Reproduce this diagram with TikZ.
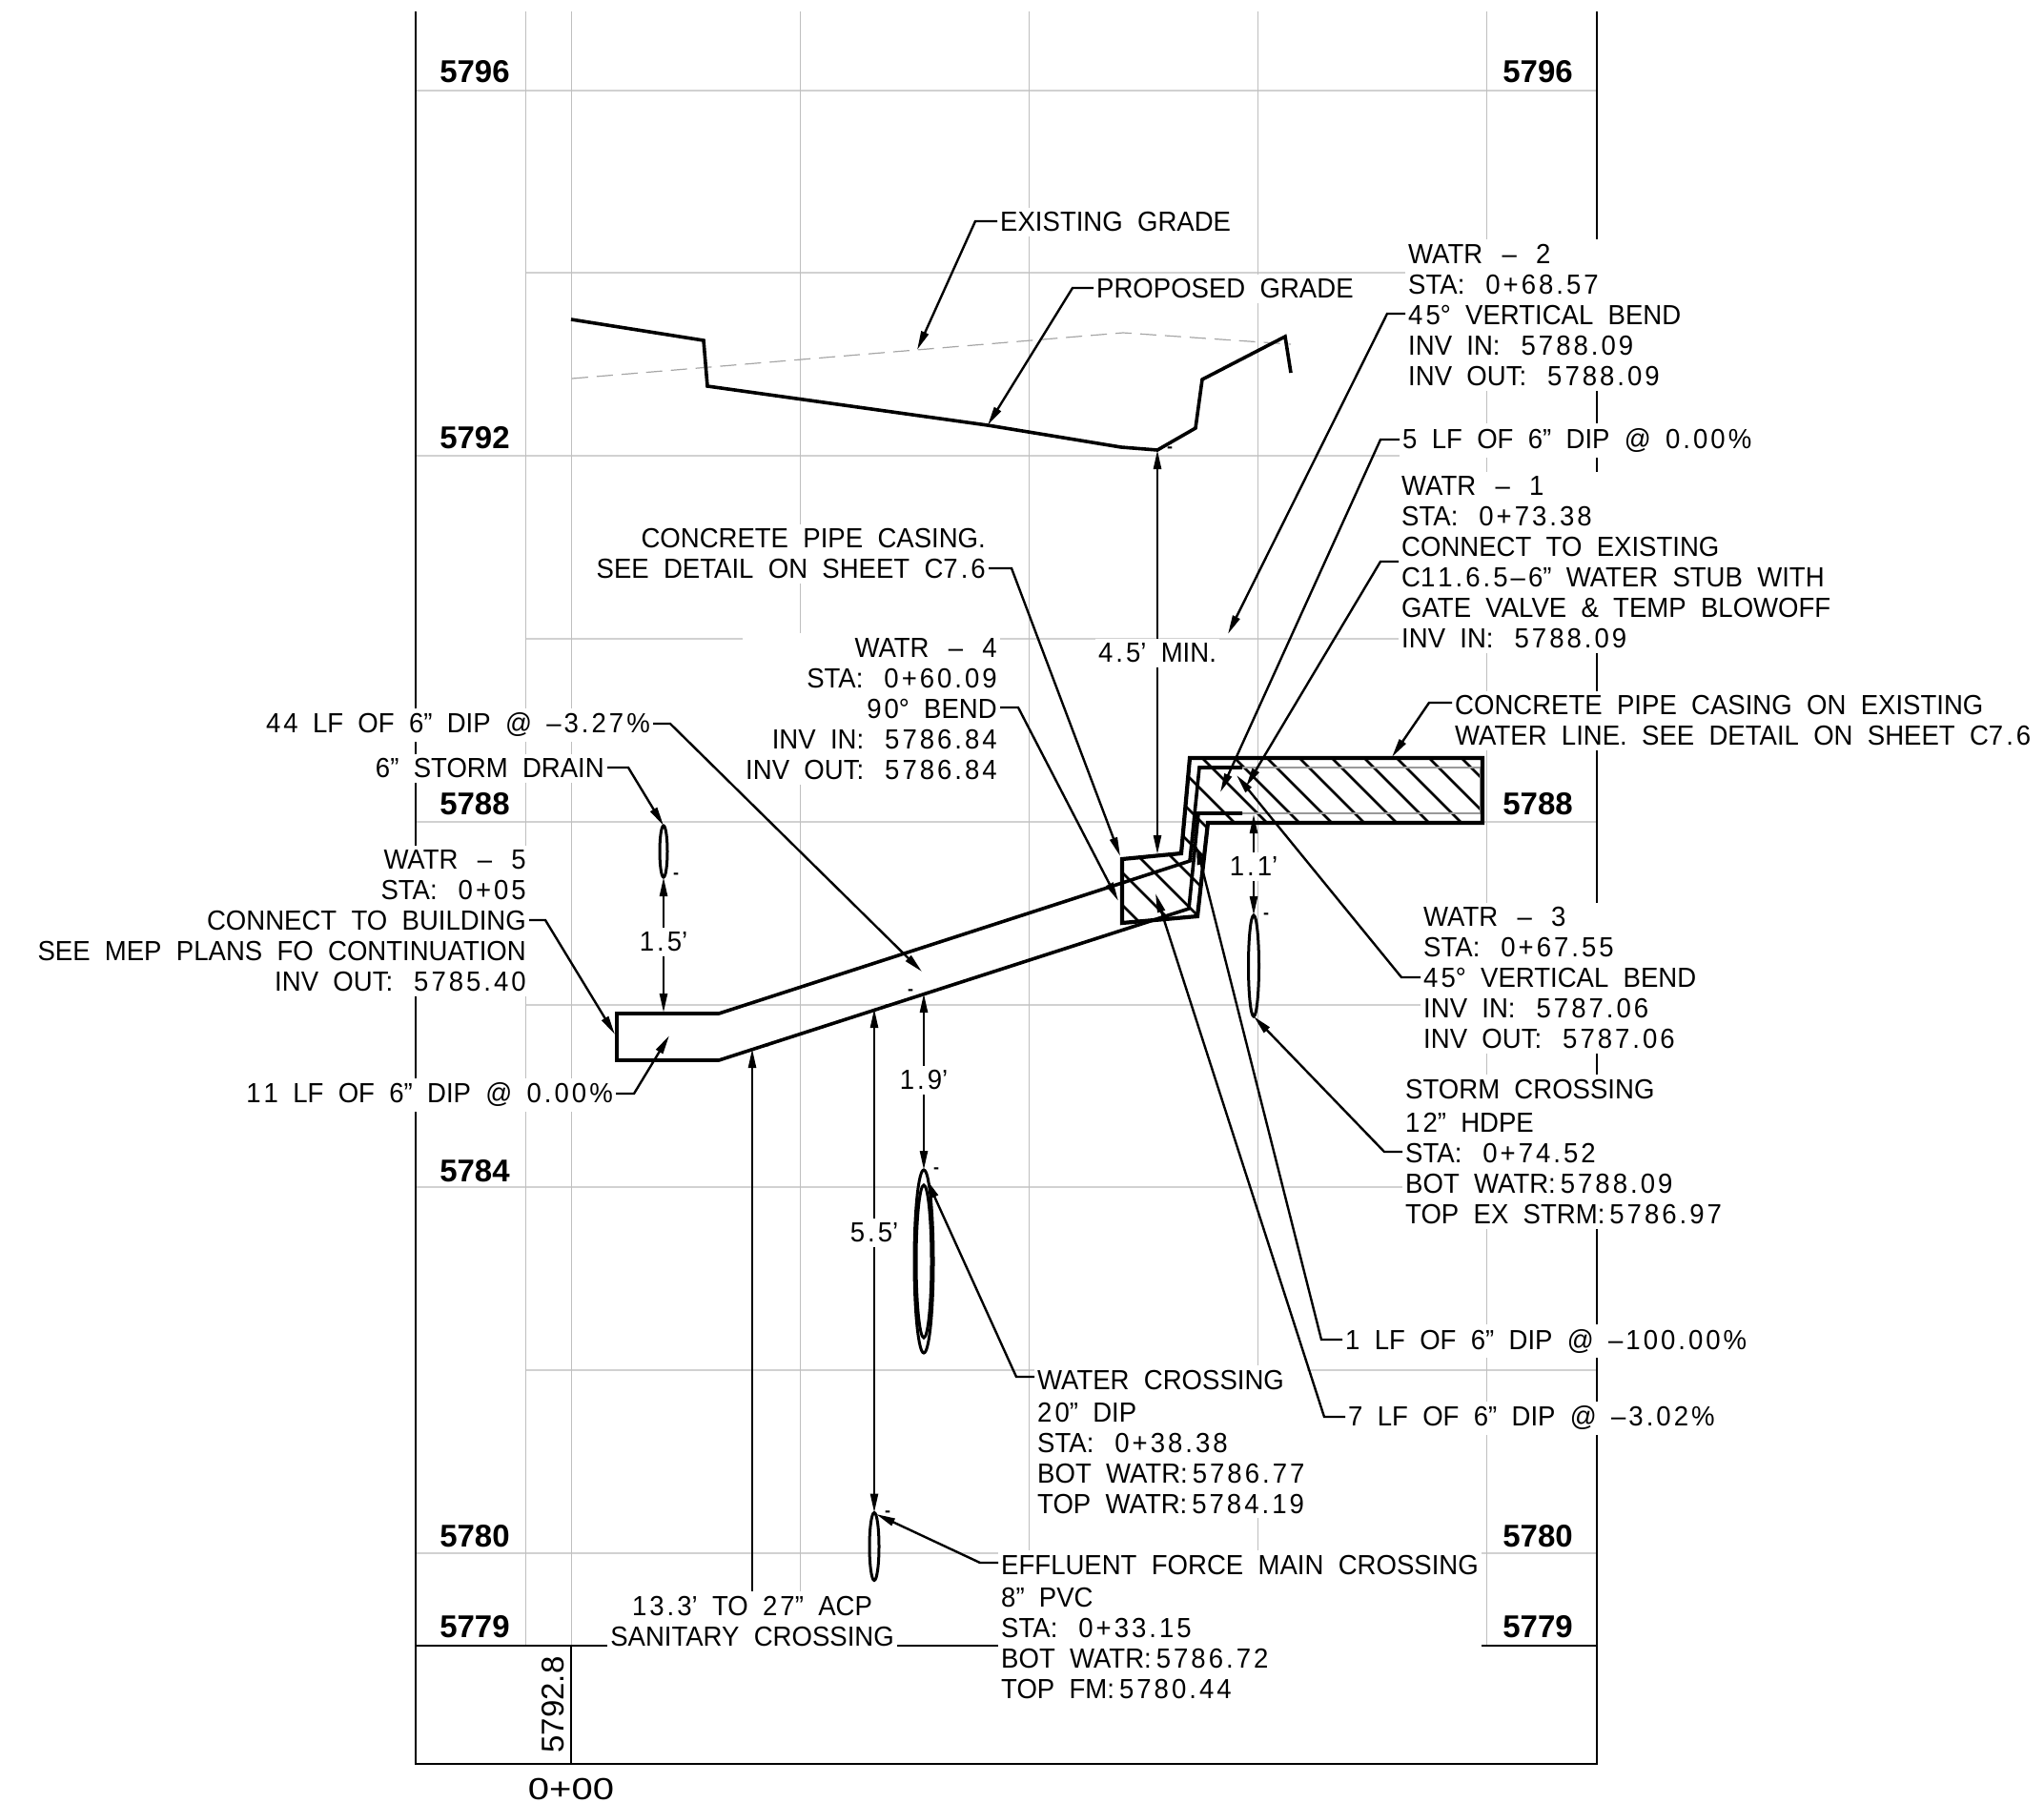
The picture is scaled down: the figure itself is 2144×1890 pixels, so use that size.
\documentclass[tikz,border=0pt]{standalone}
\usepackage{fontspec}
\setmainfont{Liberation Sans}
\newfontfamily\cadfont[FakeStretch=0.95,WordSpace=2]{Liberation Sans}
\newXeTeXintercharclass\numclass
\XeTeXcharclass`\0=\numclass \XeTeXcharclass`\1=\numclass \XeTeXcharclass`\2=\numclass \XeTeXcharclass`\3=\numclass
\XeTeXcharclass`\4=\numclass \XeTeXcharclass`\5=\numclass \XeTeXcharclass`\6=\numclass \XeTeXcharclass`\7=\numclass
\XeTeXcharclass`\8=\numclass \XeTeXcharclass`\9=\numclass \XeTeXcharclass`\.=\numclass \XeTeXcharclass`\+=\numclass
\XeTeXcharclass`\%=\numclass \XeTeXcharclass`\–=\numclass
\XeTeXinterchartoks\numclass\numclass={\kern3pt }
\newcommand{\notefont}{\cadfont\fontsize{29}{32}\selectfont\XeTeXinterchartokenstate=1 }
\newcommand{\colgap}{\kern22pt }
\newcommand{\wdash}{\kern5pt–\kern5pt}
\usetikzlibrary{arrows.meta,shapes.geometric}
\tikzset{
    gridh/.style={draw=black!18,line width=2pt},
    gridv/.style={draw=black!25,line width=1pt},
    frameline/.style={line width=2.6pt},
    pipeline/.style={line width=3.6pt,line join=miter},
    casingline/.style={line width=4.2pt,line join=miter},
    hatchline/.style={line width=2.8pt},
    exline/.style={draw=black!35,line width=1.2pt,dash pattern=on 17pt off 9pt},
    leader/.style={line width=2.4pt,-{Triangle[length=20pt,width=8pt]}},
    note/.style={font=\notefont,fill=white,inner xsep=3pt,inner ysep=5pt,yshift=-1pt},
    noteleft/.style={note,anchor=west,align=left,xshift=-3pt},
    noteright/.style={note,anchor=east,align=right,xshift=3pt},
    elevlabel/.style={font=\bfseries\fontsize{33}{36}\selectfont,inner sep=0pt},
    dashmark/.style={font=\bfseries\fontsize{18}{18}\selectfont,inner sep=0pt},
    crossing/.style={draw,ellipse,line width=3pt,inner sep=0pt,outer sep=0pt}
}
\begin{document}
\begin{tikzpicture}[x=1pt,y=-1pt]
    \useasboundingbox (0,0) rectangle (2144,1890);
    \foreach \yy in {94.6,478,862,1245,1629} \draw[gridh] (436,\yy) -- (1675,\yy);
    \foreach \yy in {286,670,1054,1437} \draw[gridh] (551,\yy) -- (1675,\yy);
    \foreach \xx in {551,599,839,1079,1319,1559} \draw[gridv] (\xx,12) -- (\xx,1726);
    \draw[frameline] (436,12) -- (436,1850) -- (1675,1850) -- (1675,12);
    \draw[frameline] (436,1726) -- (1675,1726);
    \draw[frameline] (599,1726) -- (599,1850);

    \node[noteleft] (exgrade) at (1049,232) {EXISTING GRADE};
    \node[noteleft] (propgrade) at (1150,302) {PROPOSED GRADE};
    \node[noteleft] (watrtwo) at (1477,329.5) {WATR \wdash{} 2\\STA:\colgap 0+68.57\\45° VERTICAL BEND\\INV IN:\colgap 5788.09\\INV OUT:\colgap 5788.09};
    \node[noteleft] (lffive) at (1471,461) {5 LF OF 6” DIP @ 0.00\%};
    \node[noteleft] (watrone) at (1470,589) {WATR \wdash{} 1\\STA:\colgap 0+73.38\\CONNECT TO EXISTING\\C11.6.5–6” WATER STUB WITH\\GATE VALVE \& TEMP BLOWOFF\\INV IN:\colgap 5788.09};
    \node[noteleft] (casingb) at (1526,755) {CONCRETE PIPE CASING ON EXISTING\\WATER LINE. SEE DETAIL ON SHEET C7.6};
    \node[noteright] (casingl) at (1034,580) {CONCRETE PIPE CASING.\\SEE DETAIL ON SHEET C7.6};
    \node[noteright] (watrfour) at (1046,742.5) {WATR \wdash{} 4\\STA:\colgap 0+60.09\\90° BEND\\INV IN:\colgap 5786.84\\INV OUT:\colgap 5786.84};
    \node[noteright] (lfff) at (682,759) {44 LF OF 6” DIP @ –3.27\%};
    \node[noteright] (stormtext) at (634,805) {6” STORM DRAIN};
    \node[noteright] (watrfive) at (552,965) {WATR \wdash{} 5\\STA:\colgap 0+05\\CONNECT TO BUILDING\\SEE MEP PLANS FO CONTINUATION\\INV OUT:\colgap 5785.40};
    \node[noteright] (lfeleven) at (643,1147) {11 LF OF 6” DIP @ 0.00\%};
    \node[note,align=center] (sanit) at (789,1699) {13.3’ TO 27” ACP\\SANITARY CROSSING};
    \node[noteleft] (effluent) at (1050,1705) {EFFLUENT FORCE MAIN CROSSING\\[2pt]8” PVC\\STA:\colgap 0+33.15\\BOT WATR:\kern5pt 5786.72\\TOP FM:\kern5pt 5780.44};
    \node[noteleft] (watertext) at (1088,1511) {WATER CROSSING\\[2pt]20” DIP\\STA:\colgap 0+38.38\\BOT WATR:\kern5pt 5786.77\\TOP WATR:\kern5pt 5784.19};
    \node[noteleft] (stormx) at (1474,1207) {STORM CROSSING\\[3pt]12” HDPE\\STA:\colgap 0+74.52\\BOT WATR:\kern5pt 5788.09\\TOP EX STRM:\kern5pt 5786.97};
    \node[noteleft] (watrthree) at (1493,1025) {WATR \wdash{} 3\\STA:\colgap 0+67.55\\45° VERTICAL BEND\\INV IN:\colgap 5787.06\\INV OUT:\colgap 5787.06};
    \node[noteleft] (lfone) at (1411,1405.6) {1 LF OF 6” DIP @ –100.00\%};
    \node[noteleft] (lfseven) at (1414,1486) {7 LF OF 6” DIP @ –3.02\%};
    \node[note] (dimfour) at (1214,684) {4.5’ MIN.};
    \node[note] (dimone) at (1315,908) {1.1’};
    \node[note] (dimfive) at (696,987) {1.5’};
    \node[note] (dimnine) at (969,1132) {1.9’};
    \node[note] (dimfivefive) at (917,1292) {5.5’};

    \foreach \yy/\lab in {75/5796,459/5792,843/5788,1228/5784,1611/5780,1706/5779}
        \node[elevlabel] (left\lab) at (498,\yy) {\lab};
    \foreach \yy/\lab in {75/5796,843/5788,1611/5780,1706/5779}
        \node[elevlabel] (right\lab) at (1613,\yy) {\lab};
    \node[font=\fontsize{33}{36}\selectfont,inner sep=0pt,rotate=90] (invert) at (580,1788) {5792.8};
    \node[font=\fontsize{32}{36}\selectfont,inner sep=0pt,xscale=1.25] (zero) at (599,1876.5) {0+00};

    % grades
    \draw[exline] (600,397) -- (1178,349) -- (1354,361);
    \draw[pipeline] (599,335) -- (738,357) -- (742,405) -- (1036,446) -- (1176,469) -- (1214,472) -- (1254,449) -- (1261,398) -- (1348,353) -- (1354,391);

    % casing
    \begin{scope}
        \clip (1248,795) -- (1555,795) -- (1555,863) -- (1267,863) -- (1256,961) -- (1177,968) -- (1177,901) -- (1239,895) -- cycle;
        \foreach \cc in {228,262,...,738} \draw[hatchline] ({\cc+780},780) -- ({\cc+990},990);
    \end{scope}
    \draw[draw=black!40,line width=2.8pt] (1303,805) -- (1553,805) -- (1553,853) -- (1303,853);
    \draw[casingline] (1248,795) -- (1555,795) -- (1555,863) -- (1267,863) -- (1256,961) -- (1177,968) -- (1177,901) -- (1239,895) -- cycle;

    % pipe
    \draw[pipeline] (1303,805) -- (1258,805) -- (1248,903) -- (754,1063) -- (647,1063) -- (647,1112) -- (754,1112) -- (1247,953) -- (1257,853) -- (1303,853);

    % crossings
    \node[crossing,minimum width=8pt,minimum height=54pt] (stormdrain) at (696,893) {};
    \node[crossing,minimum width=11pt,minimum height=106pt] (stormcross) at (1315,1013) {};
    \node[crossing,minimum width=20pt,minimum height=192pt] (watercross) at (969,1323) {};
    \node[crossing,minimum width=16pt,minimum height=160pt] (watercrossin) at (969,1323) {};
    \node[crossing,minimum width=10pt,minimum height=71pt] (effcross) at (917,1622) {};

    % leaders
    \coordinate (exknee) at (1023,232); \coordinate (extip) at (962,367);
    \coordinate (propknee) at (1125,302); \coordinate (proptip) at (1036,446);
    \coordinate (twoknee) at (1455,329); \coordinate (twotip) at (1288,665);
    \coordinate (lffiveknee) at (1448,461); \coordinate (lffivetip) at (1280,831);
    \coordinate (oneknee) at (1448,589); \coordinate (onetip) at (1307,825);
    \coordinate (casbknee) at (1499,737); \coordinate (casbtip) at (1460,794);
    \coordinate (caslknee) at (1061,596); \coordinate (casltip) at (1175,898);
    \coordinate (fourknee) at (1068,742); \coordinate (fourtip) at (1173,945);
    \coordinate (lfffknee) at (703,759); \coordinate (lffftip) at (967,1019);
    \coordinate (stormknee) at (659,805);
    \coordinate (fiveknee) at (572,965); \coordinate (fivetip) at (645,1085);
    \coordinate (elevenknee) at (665,1147); \coordinate (eleventip) at (702,1086);
    \coordinate (effknee) at (1028,1639); \coordinate (efftip) at (919,1588);
    \coordinate (waterknee) at (1066,1444); \coordinate (watertip) at (972,1237);
    \coordinate (stxknee) at (1452,1208);
    \coordinate (threeknee) at (1470,1025); \coordinate (threetip) at (1297,813);
    \coordinate (lfoneknee) at (1386,1405); \coordinate (lfonetip) at (1255,887);
    \coordinate (lfsevenknee) at (1389,1486); \coordinate (lfseventip) at (1212,937);
    \draw[leader] (exgrade.west |- exknee) -- (exknee) -- (extip);
    \draw[leader] (propgrade.west |- propknee) -- (propknee) -- (proptip);
    \draw[leader] (watrtwo.west |- twoknee) -- (twoknee) -- (twotip);
    \draw[leader] (lffive.west |- lffiveknee) -- (lffiveknee) -- (lffivetip);
    \draw[leader] (watrone.west |- oneknee) -- (oneknee) -- (onetip);
    \draw[leader] (casingb.west |- casbknee) -- (casbknee) -- (casbtip);
    \draw[leader] (casingl.east |- caslknee) -- (caslknee) -- (casltip);
    \draw[leader] (watrfour.east |- fourknee) -- (fourknee) -- (fourtip);
    \draw[leader] (lfff.east |- lfffknee) -- (lfffknee) -- (lffftip);
    \draw[leader] (stormtext.east |- stormknee) -- (stormknee) -- (stormdrain.north);
    \draw[leader] (watrfive.east |- fiveknee) -- (fiveknee) -- (fivetip);
    \draw[leader] (lfeleven.east |- elevenknee) -- (elevenknee) -- (eleventip);
    \draw[leader] (effluent.west |- effknee) -- (effknee) -- (efftip);
    \draw[leader] (watertext.west |- waterknee) -- (waterknee) -- (watertip);
    \draw[leader] (stormx.west |- stxknee) -- (stxknee) -- (stormcross.south);
    \draw[leader] (watrthree.west |- threeknee) -- (threeknee) -- (threetip);
    \draw[leader] (lfone.west |- lfoneknee) -- (lfoneknee) -- (lfonetip);
    \draw[leader] (lfseven.west |- lfsevenknee) -- (lfsevenknee) -- (lfseventip);

    % dimensions
    \coordinate (gradelow) at (1214,472); \coordinate (casingtop) at (1214,896);
    \coordinate (casingbot) at (1315,854);
    \coordinate (pipetop) at (696,1062);
    \coordinate (pipelowa) at (969,1042); \coordinate (pipelowb) at (917,1058);
    \coordinate (pipelowc) at (789,1100);
    \draw[leader] (dimfour.north) -- (gradelow);
    \draw[leader] (dimfour.south) -- (casingtop);
    \draw[leader] (dimone.north) -- (casingbot);
    \draw[leader] (dimone.south) -- (stormcross.north);
    \draw[leader] (dimfive.north) -- (stormdrain.south);
    \draw[leader] (dimfive.south) -- (pipetop);
    \draw[leader] (dimnine.north) -- (pipelowa);
    \draw[leader] (dimnine.south) -- (watercross.north);
    \draw[leader] (dimfivefive.north) -- (pipelowb);
    \draw[leader] (dimfivefive.south) -- (effcross.north);
    \draw[leader] (sanit.north) -- (pipelowc);

    \node[dashmark] (marka) at (1227,472) {-};
    \node[dashmark] (markb) at (1328,961) {-};
    \node[dashmark] (markc) at (709,919) {-};
    \node[dashmark] (markd) at (804,1099) {-};
    \node[dashmark] (marke) at (931,1057) {-};
    \node[dashmark] (markf) at (955,1041) {-};
    \node[dashmark] (markg) at (982,1228) {-};
    \node[dashmark] (markh) at (931,1588) {-};
\end{tikzpicture}
\end{document}
